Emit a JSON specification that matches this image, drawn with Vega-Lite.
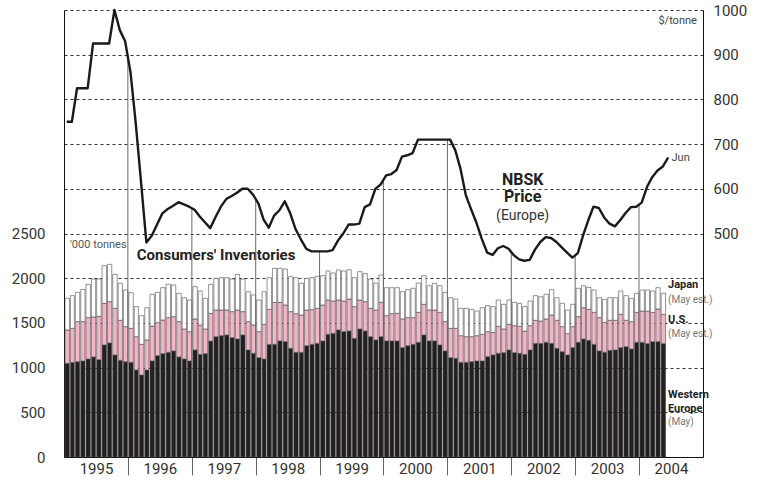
{
"$schema": "https://vega.github.io/schema/vega-lite/v6.json",
"width": 639, "height": 447,
"autosize": {"type": "none"},
"padding": {"left": 64, "top": 10, "right": 57, "bottom": 23},
"background": "white",
"config": {"font": "Roboto", "view": {"stroke": null}, "text": {"font": "Roboto"}},
"datasets": {
"inv": [
{"month":"1995-01","WEurope":1048,"US":373,"Japan":354},{"month":"1995-02","WEurope":1059,"US":380,"Japan":366},{"month":"1995-03","WEurope":1066,"US":448,"Japan":328},{"month":"1995-04","WEurope":1074,"US":440,"Japan":361},{"month":"1995-05","WEurope":1096,"US":463,"Japan":372},{"month":"1995-06","WEurope":1119,"US":447,"Japan":425},{"month":"1995-07","WEurope":1089,"US":484,"Japan":418},{"month":"1995-08","WEurope":1253,"US":466,"Japan":421},{"month":"1995-09","WEurope":1275,"US":463,"Japan":417},{"month":"1995-10","WEurope":1141,"US":522,"Japan":380},{"month":"1995-11","WEurope":1081,"US":448,"Japan":414},{"month":"1995-12","WEurope":1066,"US":392,"Japan":410},
{"month":"1996-01","WEurope":1059,"US":380,"Japan":399},{"month":"1996-02","WEurope":973,"US":373,"Japan":336},{"month":"1996-03","WEurope":917,"US":343,"Japan":321},{"month":"1996-04","WEurope":973,"US":336,"Japan":361},{"month":"1996-05","WEurope":1074,"US":391,"Japan":355},{"month":"1996-06","WEurope":1134,"US":369,"Japan":339},{"month":"1996-07","WEurope":1156,"US":376,"Japan":362},{"month":"1996-08","WEurope":1171,"US":388,"Japan":372},{"month":"1996-09","WEurope":1186,"US":384,"Japan":354},{"month":"1996-10","WEurope":1119,"US":395,"Japan":317},{"month":"1996-11","WEurope":1096,"US":336,"Japan":350},{"month":"1996-12","WEurope":1074,"US":328,"Japan":354},
{"month":"1997-01","WEurope":1197,"US":347,"Japan":361},{"month":"1997-02","WEurope":1148,"US":328,"Japan":381},{"month":"1997-03","WEurope":1156,"US":276,"Japan":343},{"month":"1997-04","WEurope":1297,"US":310,"Japan":324},{"month":"1997-05","WEurope":1346,"US":298,"Japan":355},{"month":"1997-06","WEurope":1357,"US":287,"Japan":362},{"month":"1997-07","WEurope":1365,"US":279,"Japan":362},{"month":"1997-08","WEurope":1335,"US":291,"Japan":365},{"month":"1997-09","WEurope":1320,"US":324,"Japan":399},{"month":"1997-10","WEurope":1365,"US":261,"Japan":365},{"month":"1997-11","WEurope":1197,"US":317,"Japan":335},{"month":"1997-12","WEurope":1160,"US":317,"Japan":335},
{"month":"1998-01","WEurope":1111,"US":291,"Japan":354},{"month":"1998-02","WEurope":1096,"US":388,"Japan":365},{"month":"1998-03","WEurope":1260,"US":392,"Japan":354},{"month":"1998-04","WEurope":1260,"US":470,"Japan":380},{"month":"1998-05","WEurope":1298,"US":432,"Japan":380},{"month":"1998-06","WEurope":1290,"US":410,"Japan":403},{"month":"1998-07","WEurope":1216,"US":410,"Japan":391},{"month":"1998-08","WEurope":1171,"US":432,"Japan":403},{"month":"1998-09","WEurope":1171,"US":417,"Japan":355},{"month":"1998-10","WEurope":1245,"US":399,"Japan":355},{"month":"1998-11","WEurope":1260,"US":388,"Japan":358},{"month":"1998-12","WEurope":1271,"US":392,"Japan":358},
{"month":"1999-01","WEurope":1298,"US":402,"Japan":328},{"month":"1999-02","WEurope":1372,"US":384,"Japan":325},{"month":"1999-03","WEurope":1383,"US":362,"Japan":313},{"month":"1999-04","WEurope":1421,"US":335,"Japan":336},{"month":"1999-05","WEurope":1402,"US":343,"Japan":336},{"month":"1999-06","WEurope":1409,"US":358,"Japan":328},{"month":"1999-07","WEurope":1327,"US":355,"Japan":324},{"month":"1999-08","WEurope":1432,"US":324,"Japan":317},{"month":"1999-09","WEurope":1409,"US":329,"Japan":313},{"month":"1999-10","WEurope":1346,"US":317,"Japan":328},{"month":"1999-11","WEurope":1309,"US":335,"Japan":302},{"month":"1999-12","WEurope":1346,"US":384,"Japan":306},
{"month":"2000-01","WEurope":1298,"US":283,"Japan":313},{"month":"2000-02","WEurope":1298,"US":305,"Japan":291},{"month":"2000-03","WEurope":1298,"US":309,"Japan":287},{"month":"2000-04","WEurope":1223,"US":321,"Japan":305},{"month":"2000-05","WEurope":1245,"US":314,"Japan":313},{"month":"2000-06","WEurope":1260,"US":299,"Japan":328},{"month":"2000-07","WEurope":1283,"US":335,"Japan":328},{"month":"2000-08","WEurope":1365,"US":343,"Japan":320},{"month":"2000-09","WEurope":1298,"US":346,"Japan":272},{"month":"2000-10","WEurope":1298,"US":346,"Japan":299},{"month":"2000-11","WEurope":1253,"US":365,"Japan":298},{"month":"2000-12","WEurope":1186,"US":328,"Japan":328},
{"month":"2001-01","WEurope":1111,"US":328,"Japan":343},{"month":"2001-02","WEurope":1104,"US":335,"Japan":328},{"month":"2001-03","WEurope":1059,"US":298,"Japan":306},{"month":"2001-04","WEurope":1059,"US":287,"Japan":317},{"month":"2001-05","WEurope":1066,"US":280,"Japan":306},{"month":"2001-06","WEurope":1074,"US":283,"Japan":276},{"month":"2001-07","WEurope":1074,"US":298,"Japan":298},{"month":"2001-08","WEurope":1122,"US":280,"Japan":291},{"month":"2001-09","WEurope":1141,"US":253,"Japan":288},{"month":"2001-10","WEurope":1160,"US":302,"Japan":294},{"month":"2001-11","WEurope":1167,"US":265,"Japan":276},{"month":"2001-12","WEurope":1197,"US":287,"Japan":272},
{"month":"2002-01","WEurope":1167,"US":302,"Japan":261},{"month":"2002-02","WEurope":1160,"US":302,"Japan":257},{"month":"2002-03","WEurope":1148,"US":261,"Japan":273},{"month":"2002-04","WEurope":1197,"US":272,"Japan":276},{"month":"2002-05","WEurope":1271,"US":258,"Japan":276},{"month":"2002-06","WEurope":1271,"US":250,"Japan":272},{"month":"2002-07","WEurope":1283,"US":261,"Japan":276},{"month":"2002-08","WEurope":1271,"US":317,"Japan":284},{"month":"2002-09","WEurope":1216,"US":313,"Japan":253},{"month":"2002-10","WEurope":1178,"US":280,"Japan":261},{"month":"2002-11","WEurope":1141,"US":239,"Japan":264},{"month":"2002-12","WEurope":1223,"US":235,"Japan":250},
{"month":"2003-01","WEurope":1283,"US":287,"Japan":317},{"month":"2003-02","WEurope":1320,"US":350,"Japan":246},{"month":"2003-03","WEurope":1305,"US":347,"Japan":246},{"month":"2003-04","WEurope":1260,"US":358,"Japan":250},{"month":"2003-05","WEurope":1186,"US":373,"Japan":223},{"month":"2003-06","WEurope":1171,"US":335,"Japan":258},{"month":"2003-07","WEurope":1193,"US":336,"Japan":253},{"month":"2003-08","WEurope":1197,"US":332,"Japan":253},{"month":"2003-09","WEurope":1223,"US":373,"Japan":261},{"month":"2003-10","WEurope":1234,"US":295,"Japan":276},{"month":"2003-11","WEurope":1208,"US":306,"Japan":261},{"month":"2003-12","WEurope":1283,"US":335,"Japan":213},
{"month":"2004-01","WEurope":1283,"US":350,"Japan":235},{"month":"2004-02","WEurope":1268,"US":365,"Japan":235},{"month":"2004-03","WEurope":1290,"US":328,"Japan":239},{"month":"2004-04","WEurope":1290,"US":365,"Japan":239},{"month":"2004-05","WEurope":1268,"US":328,"Japan":235}
],
"price": [
{"month":"1995-01","usd":750},{"month":"1995-02","usd":750},{"month":"1995-03","usd":825},{"month":"1995-04","usd":825},{"month":"1995-05","usd":825},{"month":"1995-06","usd":925},{"month":"1995-07","usd":925},{"month":"1995-08","usd":925},{"month":"1995-09","usd":925},{"month":"1995-10","usd":1000},{"month":"1995-11","usd":955},{"month":"1995-12","usd":930},
{"month":"1996-01","usd":860},{"month":"1996-02","usd":745},{"month":"1996-03","usd":615},{"month":"1996-04","usd":480},{"month":"1996-05","usd":495},{"month":"1996-06","usd":520},{"month":"1996-07","usd":545},{"month":"1996-08","usd":555},{"month":"1996-09","usd":562},{"month":"1996-10","usd":570},{"month":"1996-11","usd":565},{"month":"1996-12","usd":560},
{"month":"1997-01","usd":553},{"month":"1997-02","usd":538},{"month":"1997-03","usd":525},{"month":"1997-04","usd":512},{"month":"1997-05","usd":537},{"month":"1997-06","usd":560},{"month":"1997-07","usd":577},{"month":"1997-08","usd":584},{"month":"1997-09","usd":591},{"month":"1997-10","usd":600},{"month":"1997-11","usd":600},{"month":"1997-12","usd":587},
{"month":"1998-01","usd":567},{"month":"1998-02","usd":531},{"month":"1998-03","usd":513},{"month":"1998-04","usd":540},{"month":"1998-05","usd":552},{"month":"1998-06","usd":572},{"month":"1998-07","usd":546},{"month":"1998-08","usd":510},{"month":"1998-09","usd":487},{"month":"1998-10","usd":466},{"month":"1998-11","usd":460},{"month":"1998-12","usd":460},
{"month":"1999-01","usd":460},{"month":"1999-02","usd":460},{"month":"1999-03","usd":463},{"month":"1999-04","usd":484},{"month":"1999-05","usd":500},{"month":"1999-06","usd":520},{"month":"1999-07","usd":520},{"month":"1999-08","usd":522},{"month":"1999-09","usd":559},{"month":"1999-10","usd":565},{"month":"1999-11","usd":600},{"month":"1999-12","usd":610},
{"month":"2000-01","usd":630},{"month":"2000-02","usd":633},{"month":"2000-03","usd":642},{"month":"2000-04","usd":672},{"month":"2000-05","usd":675},{"month":"2000-06","usd":680},{"month":"2000-07","usd":710},{"month":"2000-08","usd":710},{"month":"2000-09","usd":710},{"month":"2000-10","usd":710},{"month":"2000-11","usd":710},{"month":"2000-12","usd":710},
{"month":"2001-01","usd":710},{"month":"2001-02","usd":686},{"month":"2001-03","usd":645},{"month":"2001-04","usd":586},{"month":"2001-05","usd":554},{"month":"2001-06","usd":524},{"month":"2001-07","usd":488},{"month":"2001-08","usd":457},{"month":"2001-09","usd":452},{"month":"2001-10","usd":467},{"month":"2001-11","usd":472},{"month":"2001-12","usd":466},
{"month":"2002-01","usd":451},{"month":"2002-02","usd":442},{"month":"2002-03","usd":439},{"month":"2002-04","usd":441},{"month":"2002-05","usd":464},{"month":"2002-06","usd":481},{"month":"2002-07","usd":492},{"month":"2002-08","usd":490},{"month":"2002-09","usd":481},{"month":"2002-10","usd":469},{"month":"2002-11","usd":457},{"month":"2002-12","usd":446},
{"month":"2003-01","usd":456},{"month":"2003-02","usd":495},{"month":"2003-03","usd":529},{"month":"2003-04","usd":560},{"month":"2003-05","usd":557},{"month":"2003-06","usd":536},{"month":"2003-07","usd":522},{"month":"2003-08","usd":516},{"month":"2003-09","usd":530},{"month":"2003-10","usd":546},{"month":"2003-11","usd":559},{"month":"2003-12","usd":560},
{"month":"2004-01","usd":569},{"month":"2004-02","usd":604},{"month":"2004-03","usd":626},{"month":"2004-04","usd":641},{"month":"2004-05","usd":650},{"month":"2004-06","usd":670}
],
"yearlines": [
{"month":"1996-01","top":895},{"month":"1997-01","top":557},{"month":"1998-01","top":577},{"month":"1999-01","top":460},{"month":"2000-01","top":620},{"month":"2001-01","top":710},{"month":"2002-01","top":458},{"month":"2003-01","top":451},{"month":"2004-01","top":564}
],
"one": [{}]
},
"layer": [
{
"layer": [
{
"data": {"name": "inv"},
"transform": [{"fold": ["WEurope", "US", "Japan"], "as": ["region", "kt"]}],
"mark": {"type": "bar", "stroke": "#4a4a4a", "strokeWidth": 0.6},
"encoding": {
"x": {"field": "month", "timeUnit": "utcyearmonth", "type": "temporal",
"scale": {"domain": [{"year": 1995, "month": 1, "date": 1, "utc": true}, {"year": 2005, "month": 1, "date": 1, "utc": true}]},
"axis": {"title": null, "format": "%Y", "grid": false,
"values": [{"year":1995,"month":1,"date":1,"utc":true},{"year":1996,"month":1,"date":1,"utc":true},{"year":1997,"month":1,"date":1,"utc":true},{"year":1998,"month":1,"date":1,"utc":true},{"year":1999,"month":1,"date":1,"utc":true},{"year":2000,"month":1,"date":1,"utc":true},{"year":2001,"month":1,"date":1,"utc":true},{"year":2002,"month":1,"date":1,"utc":true},{"year":2003,"month":1,"date":1,"utc":true},{"year":2004,"month":1,"date":1,"utc":true}],
"labelAlign": "center", "labelOffset": 32, "labelPadding": -14, "labelFontSize": 15, "labelColor": "#333", "labelFont": "Roboto",
"tickSize": 18, "tickColor": "#666", "tickOpacity": {"condition": {"test": "utcyear(datum.value) === 1995", "value": 0}, "value": 1},
"domainColor": "#111", "domainWidth": 1}},
"y": {"field": "kt", "type": "quantitative", "stack": "zero", "scale": {"domain": [0, 5000], "nice": false},
"axis": {"orient": "left", "title": null, "values": [0,500,1000,1500,2000,2500,3000,3500,4000,4500,5000],
"labelExpr": "datum.value <= 2500 ? datum.label : ''", "format": "d",
"grid": true, "gridDash": [3, 3], "gridColor": "#333", "gridWidth": 1,
"ticks": false, "tickSize": 0, "labelPadding": 19, "labelFontSize": 15, "labelColor": "#333", "labelFont": "Roboto",
"domainColor": "#111", "domainWidth": 1}},
"color": {"field": "region", "type": "nominal",
"scale": {"domain": ["WEurope", "US", "Japan"], "range": ["#231f20", "#f3b6c6", "#ffffff"]}, "legend": null},
"order": {"field": "region", "sort": "descending"}
}
},
{
"data": {"name": "one"},
"mark": {"type": "text", "align": "left", "baseline": "middle", "fontSize": 11, "color": "#555"},
"encoding": {"x": {"datum": {"year": 1995, "month": 2, "date": 4, "utc": true}, "type": "temporal"}, "y": {"datum": 2371, "type": "quantitative"}, "text": {"value": "'000 tonnes"}}
},
{
"data": {"name": "one"},
"mark": {"type": "text", "align": "left", "baseline": "middle", "fontSize": 15, "fontWeight": "bold", "color": "#222"},
"encoding": {"x": {"datum": {"year": 1996, "month": 2, "date": 21, "utc": true}, "type": "temporal"}, "y": {"datum": 2260, "type": "quantitative"}, "text": {"value": "Consumers' Inventories"}}
},
{
"data": {"name": "one"},
"mark": {"type": "text", "align": "left", "baseline": "middle", "fontSize": 11, "fontWeight": "bold", "color": "#222"},
"encoding": {"x": {"datum": {"year": 2004, "month": 6, "date": 15, "utc": true}, "type": "temporal"}, "y": {"datum": 1924, "type": "quantitative"}, "text": {"value": "Japan"}}
},
{
"data": {"name": "one"},
"mark": {"type": "text", "align": "left", "baseline": "middle", "fontSize": 11, "fontWeight": "bold", "color": "#222"},
"encoding": {"x": {"datum": {"year": 2004, "month": 6, "date": 15, "utc": true}, "type": "temporal"}, "y": {"datum": 1532, "type": "quantitative"}, "text": {"value": "U.S."}}
},
{
"data": {"name": "one"},
"mark": {"type": "text", "align": "left", "baseline": "middle", "fontSize": 11, "fontWeight": "bold", "color": "#222"},
"encoding": {"x": {"datum": {"year": 2004, "month": 6, "date": 15, "utc": true}, "type": "temporal"}, "y": {"datum": 688, "type": "quantitative"}, "text": {"value": "Western"}}
},
{
"data": {"name": "one"},
"mark": {"type": "text", "align": "left", "baseline": "middle", "fontSize": 11, "fontWeight": "bold", "color": "#222"},
"encoding": {"x": {"datum": {"year": 2004, "month": 6, "date": 15, "utc": true}, "type": "temporal"}, "y": {"datum": 540, "type": "quantitative"}, "text": {"value": "Europe"}}
},
{
"data": {"name": "one"},
"mark": {"type": "text", "align": "left", "baseline": "middle", "fontSize": 10, "color": "#777"},
"encoding": {"x": {"datum": {"year": 2004, "month": 6, "date": 15, "utc": true}, "type": "temporal"}, "y": {"datum": 1756, "type": "quantitative"}, "text": {"value": "(May est.)"}}
},
{
"data": {"name": "one"},
"mark": {"type": "text", "align": "left", "baseline": "middle", "fontSize": 10, "color": "#777"},
"encoding": {"x": {"datum": {"year": 2004, "month": 6, "date": 15, "utc": true}, "type": "temporal"}, "y": {"datum": 1376, "type": "quantitative"}, "text": {"value": "(May est.)"}}
},
{
"data": {"name": "one"},
"mark": {"type": "text", "align": "left", "baseline": "middle", "fontSize": 10, "color": "#777"},
"encoding": {"x": {"datum": {"year": 2004, "month": 6, "date": 15, "utc": true}, "type": "temporal"}, "y": {"datum": 392, "type": "quantitative"}, "text": {"value": "(May)"}}
}
]
},
{
"layer": [
{
"data": {"name": "yearlines"},
"mark": {"type": "rule", "color": "#6a6a6a", "strokeWidth": 1},
"encoding": {
"x": {"field": "month", "timeUnit": "utcyearmonth", "type": "temporal", "bandPosition": 0},
"y": {"field": "top", "type": "quantitative", "scale": {"domain": [0, 1000], "nice": false},
"axis": {"orient": "right", "title": null, "values": [500, 600, 700, 800, 900, 1000], "format": "d", "grid": false,
"ticks": false, "tickSize": 0, "labelPadding": 10, "labelFontSize": 15, "labelColor": "#333", "labelFont": "Roboto",
"domainColor": "#111", "domainWidth": 1}},
"y2": {"datum": 0}
}
},
{
"data": {"name": "price"},
"mark": {"type": "line", "color": "#1a1a1a", "strokeWidth": 2.4, "strokeJoin": "round"},
"encoding": {
"x": {"field": "month", "timeUnit": "utcyearmonth", "type": "temporal", "bandPosition": 0.5},
"y": {"field": "usd", "type": "quantitative"}
}
},
{
"data": {"name": "one"},
"mark": {"type": "text", "align": "right", "baseline": "middle", "fontSize": 11, "color": "#444"},
"encoding": {"x": {"datum": {"year": 2004, "month": 11, "date": 27, "utc": true}, "type": "temporal"}, "y": {"datum": 975, "type": "quantitative"}, "text": {"value": "$/tonne"}}
},
{
"data": {"name": "one"},
"mark": {"type": "text", "align": "left", "baseline": "middle", "fontSize": 11, "color": "#444"},
"encoding": {"x": {"datum": {"year": 2004, "month": 7, "date": 5, "utc": true}, "type": "temporal"}, "y": {"datum": 668, "type": "quantitative"}, "text": {"value": "Jun"}}
},
{
"data": {"name": "one"},
"mark": {"type": "text", "align": "center", "baseline": "middle", "fontSize": 16, "fontWeight": "bold", "color": "#222"},
"encoding": {"x": {"datum": {"year": 2002, "month": 3, "date": 7, "utc": true}, "type": "temporal"}, "y": {"datum": 620, "type": "quantitative"}, "text": {"value": "NBSK"}}
},
{
"data": {"name": "one"},
"mark": {"type": "text", "align": "center", "baseline": "middle", "fontSize": 16, "fontWeight": "bold", "color": "#222"},
"encoding": {"x": {"datum": {"year": 2002, "month": 3, "date": 7, "utc": true}, "type": "temporal"}, "y": {"datum": 581, "type": "quantitative"}, "text": {"value": "Price"}}
},
{
"data": {"name": "one"},
"mark": {"type": "text", "align": "center", "baseline": "middle", "fontSize": 14, "color": "#333"},
"encoding": {"x": {"datum": {"year": 2002, "month": 3, "date": 7, "utc": true}, "type": "temporal"}, "y": {"datum": 540, "type": "quantitative"}, "text": {"value": "(Europe)"}}
}
]
}
],
"resolve": {"scale": {"y": "independent"}}
}
